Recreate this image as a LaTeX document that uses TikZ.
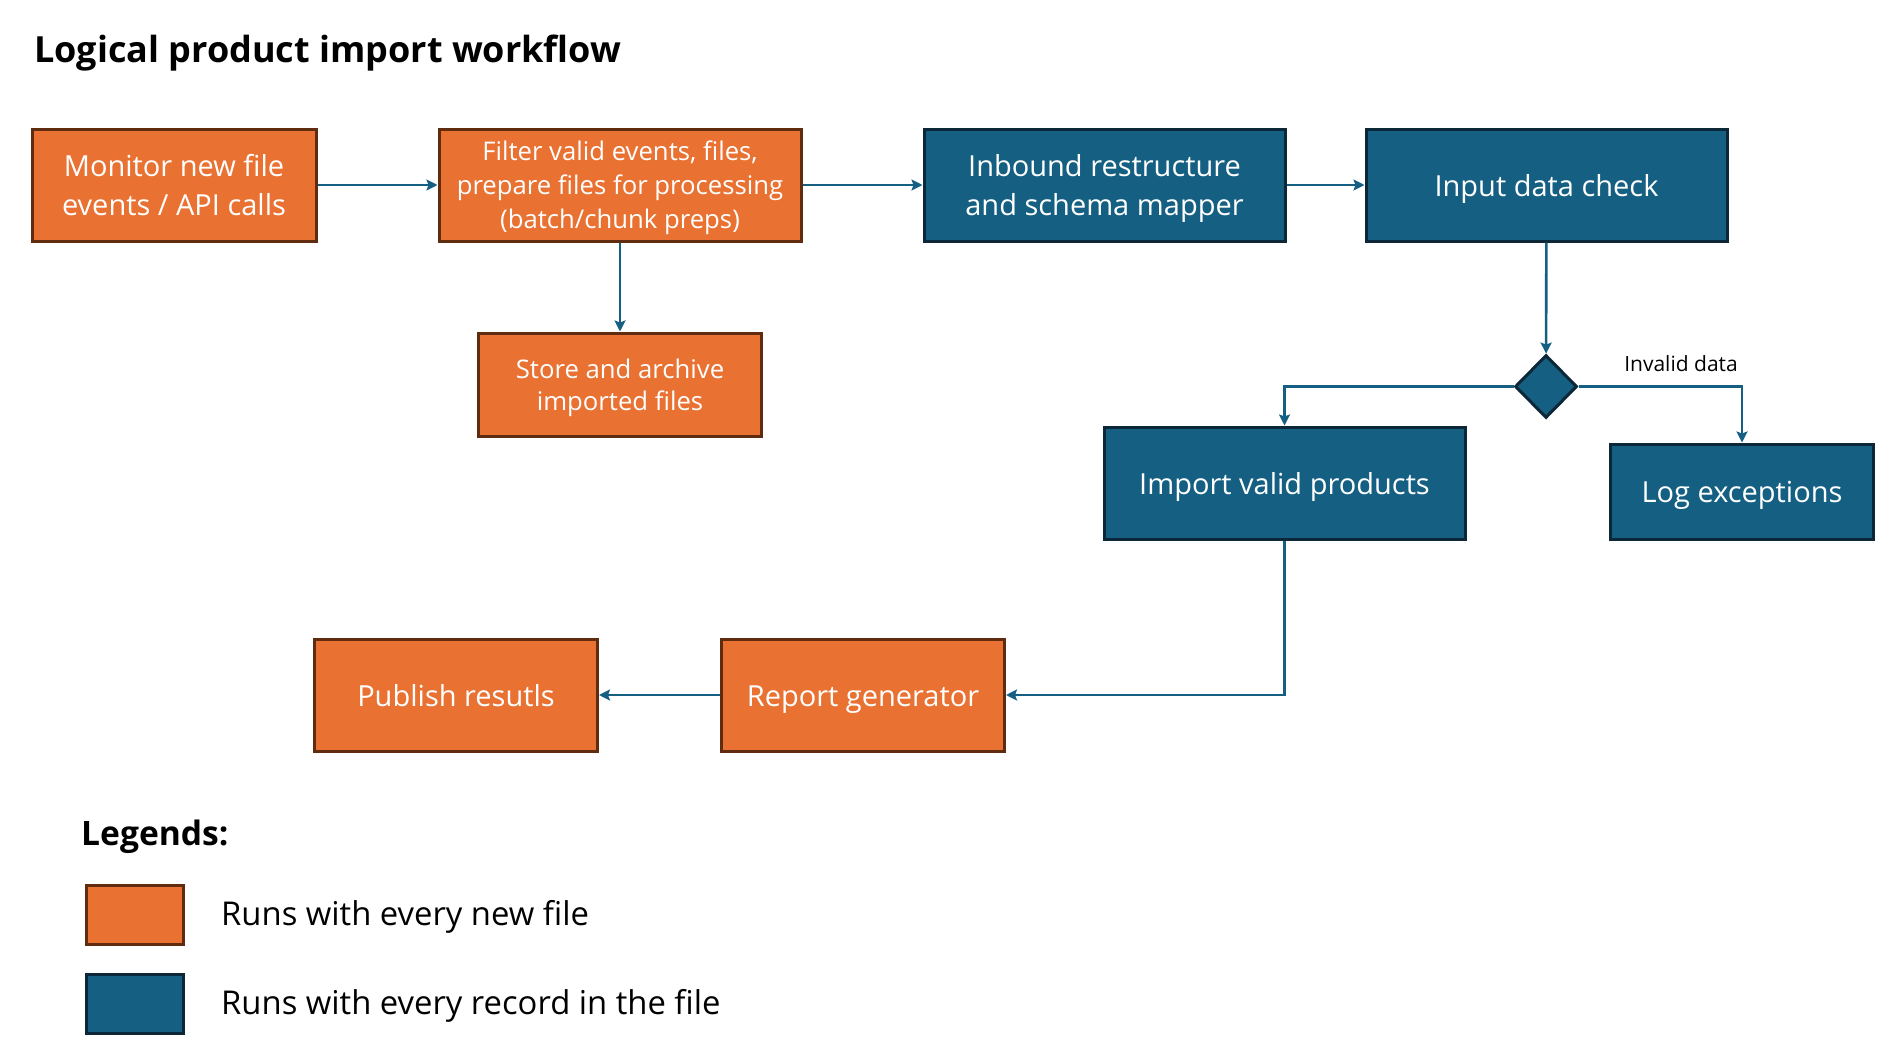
\documentclass[tikz,border=0pt]{standalone}
\usepackage{fontspec}
\setmainfont{Open Sans}
\usetikzlibrary{arrows.meta,shapes.geometric}
\definecolor{orfill}{HTML}{E97132}
\definecolor{ordraw}{HTML}{602C10}
\definecolor{blfill}{HTML}{156082}
\definecolor{bldraw}{HTML}{0C2838}
\definecolor{conn}{HTML}{156082}
% last line of a text: no depth, constant ascender
\newcommand\lastln[1]{\raisebox{0pt}[\height][0pt]{\vphantom{lI}#1}}
\tikzset{
  obox/.style={draw=ordraw, fill=orfill, line width=3pt, text=white, align=center, inner sep=0pt},
  bbox/.style={draw=bldraw, fill=blfill, line width=3pt, text=white, align=center, inner sep=0pt},
  bigtxt/.style={font=\fontsize{29}{38.5}\selectfont},
  midtxt/.style={font=\fontsize{25.7}{34}\selectfont},
  stotxt/.style={font=\fontsize{25.7}{32.5}\selectfont},
  legtxt/.style={anchor=west, inner sep=0pt, font=\fontsize{32.8}{38}\selectfont},
  conn/.style={draw=conn, line width=2.6pt, -{Stealth[length=11pt,width=11pt,inset=2pt]}},
}
\begin{document}
\begin{tikzpicture}[x=1pt,y=-1pt]
\useasboundingbox[fill=white] (0,0) rectangle (1885,1044);

\node[anchor=west, inner sep=0pt, font=\fontsize{36}{42}\selectfont\bfseries] (title) at (34,49) {\lastln{Logical product import workflow}};

\node[obox, bigtxt, minimum width=284pt, minimum height=112pt] (mon) at (174,185) {Monitor new file\\\lastln{events / API calls}};
\node[obox, midtxt, minimum width=362pt, minimum height=112pt] (fil) at (620,185) {Filter valid events, files,\\prepare files for processing\\\lastln{(batch/chunk preps)}};
\node[bbox, bigtxt, minimum width=361pt, minimum height=112pt] (inb) at (1104.5,185) {Inbound restructure\\\lastln{and schema mapper}};
\node[bbox, bigtxt, minimum width=361pt, minimum height=112pt] (inp) at (1546.5,185) {\lastln{Input data check}};
\node[obox, stotxt, minimum width=283pt, minimum height=103pt] (sto) at (620,384.5) {Store and archive\\\lastln{imported files}};
\node[diamond, draw=bldraw, fill=blfill, line width=3pt, minimum width=62pt, minimum height=63pt, inner sep=0pt] (dia) at (1546,386.5) {};
\node[bbox, bigtxt, minimum width=361pt, minimum height=112pt] (imp) at (1284.5,483) {\lastln{Import valid products}};
\node[bbox, bigtxt, minimum width=263pt, minimum height=95pt] (log) at (1742,491.5) {\lastln{Log exceptions}};
\node[obox, bigtxt, minimum width=283pt, minimum height=112pt] (rep) at (863,695) {\lastln{Report generator}};
\node[obox, bigtxt, minimum width=283pt, minimum height=112pt] (pub) at (456,695) {\lastln{Publish resutls}};

\node[font=\fontsize{21}{25}\selectfont] (inv) at (1681,364) {Invalid data};

\draw[conn] (mon) -- (fil);
\draw[conn] (fil) -- (inb);
\draw[conn] (inb) -- (inp);
\draw[conn] (fil) -- (sto);
\draw[conn] (inp) -- (dia);
\draw[conn] (dia.west) -| (imp.north);
\draw[conn] (dia.east) -| (log.north);
\draw[conn] (imp.south) |- (rep.east);
\draw[conn] (rep) -- (pub);

\node[anchor=west, inner sep=0pt, font=\fontsize{33.6}{40}\selectfont\bfseries] (leg) at (81,833) {\lastln{Legends:}};
\node[obox, minimum width=97pt, minimum height=59pt] (lego) at (134.5,914.5) {};
\node[bbox, minimum width=97pt, minimum height=59pt] (legb) at (134.5,1003.5) {};
\node[legtxt] (lto) at (221,913) {\lastln{Runs with every new file}};
\node[legtxt] (ltb) at (221,1002) {\lastln{Runs with every record in the file}};
\end{tikzpicture}
\end{document}
